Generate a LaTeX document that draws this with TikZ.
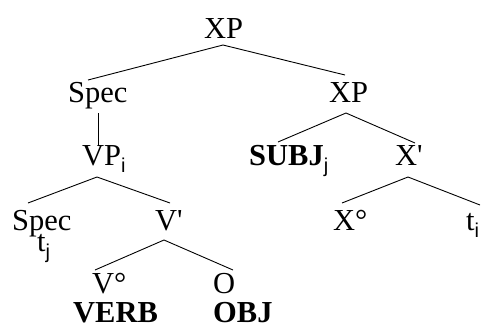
\documentclass[tikz,border=0pt]{standalone}
\usepackage{fontspec}
\setmainfont{Liberation Serif}
\newfontfamily\subfont{Liberation Sans}
\newcommand{\mysub}[1]{\raisebox{-7pt}{\fontsize{20}{24}\subfont #1}}
\begin{document}
\begin{tikzpicture}[x=1pt,y=-1pt,
  lbl/.style={anchor=base west,inner sep=0pt,font=\fontsize{30.5}{36}\selectfont},
  blbl/.style={lbl,font=\fontsize{30.5}{36}\selectfont\bfseries},
  edge/.style={line width=0.9pt,line join=miter}]
\useasboundingbox (0,0) rectangle (483,327);
% nodes
\node[lbl] (xp1) at (204,38) {XP};
\node[lbl] (spec1) at (68,102) {Spec};
\node[lbl] (xp2) at (329,102) {XP};
\node[lbl] (vp) at (82,165) {VP\mysub{i}};
\node[blbl] (subj) at (249,165) {SUBJ\mysub{\mdseries j}};
\node[lbl] (xbar) at (395,165) {X\textquotesingle};
\node[lbl] (spec2) at (12,230) {Spec};
\node[lbl] (vbar) at (155,230) {V\textquotesingle};
\node[lbl] (xzero) at (333,230) {X°};
\node[lbl] (ti) at (466,230) {t\mysub{i}};
\node[lbl] (tj) at (37,251) {t\mysub{j}};
\node[lbl] (vzero) at (92,293) {V°};
\node[lbl] (o) at (213,293) {O};
\node[blbl] (verb) at (73,322) {VERB};
\node[blbl] (obj) at (213,322) {OBJ};
% connector points
\coordinate (xp1-b) at (223,45);
\coordinate (spec1-t) at (88,80);
\coordinate (xp2-t) at (345,75);
\coordinate (spec1-b) at (98,113);
\coordinate (vp-t) at (98,146);
\coordinate (xp2-b) at (346,113);
\coordinate (subj-t) at (278,142);
\coordinate (xbar-t) at (415,143);
\coordinate (vp-b) at (97,177);
\coordinate (spec2-t) at (28,203);
\coordinate (vbar-t) at (170,203);
\coordinate (xbar-b) at (408,177);
\coordinate (xzero-t) at (342,203);
\coordinate (ti-t) at (480,205);
\coordinate (vbar-b) at (164,240);
\coordinate (vzero-t) at (95,270);
\coordinate (o-t) at (233,270);
% connectors
\draw[edge] (spec1-t) -- (xp1-b) -- (xp2-t);
\draw[edge] (spec1-b) -- (vp-t);
\draw[edge] (subj-t) -- (xp2-b) -- (xbar-t);
\draw[edge] (spec2-t) -- (vp-b) -- (vbar-t);
\draw[edge] (xzero-t) -- (xbar-b) -- (ti-t);
\draw[edge] (vzero-t) -- (vbar-b) -- (o-t);
\end{tikzpicture}
\end{document}
